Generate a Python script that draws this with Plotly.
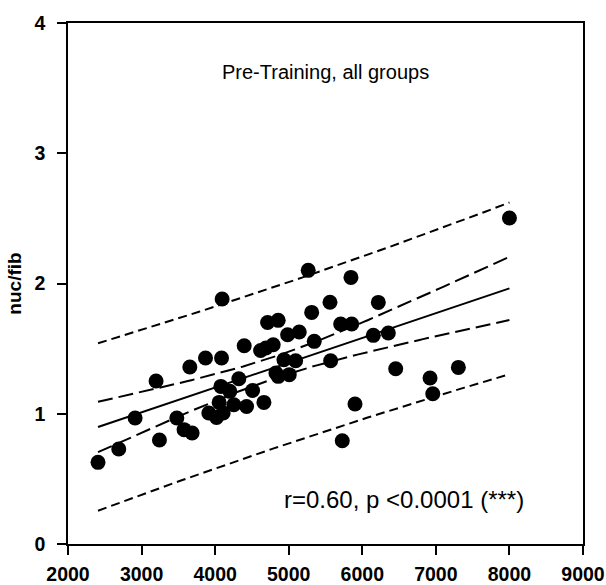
import numpy as np
import plotly.graph_objects as go

# Data
x_vals = [2408, 2690, 2912, 3197, 3243, 3479, 3578, 3687, 3656, 3869,
          4087, 4095, 3914, 4019, 4109, 4054, 4078, 4200, 4254, 4322,
          4395, 4427, 4509, 4663, 4618, 4690, 4789, 4713, 4857, 4826,
          4857, 5007, 4935, 5094, 4985, 5143, 5312, 5265, 5347, 5561,
          5570, 5706, 5856, 5846, 6218, 6150, 6354, 6454, 5901, 5728,
          6921, 6958, 7306, 8000]
y_vals = [0.627, 0.729, 0.967, 1.251, 0.798, 0.967, 0.878, 0.852, 1.359, 1.428,
          1.428, 1.881, 1.006, 0.972, 1.006, 1.087, 1.210, 1.172, 1.069, 1.269,
          1.522, 1.056, 1.179, 1.087, 1.486, 1.505, 1.530, 1.701, 1.717, 1.313,
          1.287, 1.300, 1.415, 1.407, 1.607, 1.628, 1.778, 2.101, 1.556, 1.856,
          1.407, 1.689, 1.689, 2.047, 1.855, 1.602, 1.620, 1.346, 1.075, 0.793,
          1.274, 1.154, 1.356, 2.503]

x_ticks = [2000, 3000, 4000, 5000, 6000, 7000, 8000, 9000]
y_ticks = [0, 1, 2, 3, 4]
title_text = "Pre-Training, all groups"
stat_text = "r=0.60, p <0.0001 (***)"
y_title = "nuc/fib"

# Linear regression with 95% confidence and prediction bands
x = np.array(x_vals, dtype=float)
y = np.array(y_vals, dtype=float)
n = len(x)
b1, b0 = np.polyfit(x, y, 1)
resid = y - (b0 + b1 * x)
s = np.sqrt(np.sum(resid ** 2) / (n - 2))
sxx = np.sum((x - x.mean()) ** 2)
t = 2.0066
xf = np.linspace(x.min(), x.max(), 120)
yf = b0 + b1 * xf
se_mean = s * np.sqrt(1.0 / n + (xf - x.mean()) ** 2 / sxx)
se_pred = s * np.sqrt(1.0 + 1.0 / n + (xf - x.mean()) ** 2 / sxx)

fig = go.Figure()
line_w = 2
for yy in (yf + t * se_pred, yf - t * se_pred):
    fig.add_trace(go.Scatter(x=xf, y=yy, mode="lines",
                             line=dict(color="black", width=line_w, dash="9px,5px"),
                             hoverinfo="skip"))
for yy in (yf + t * se_mean, yf - t * se_mean):
    fig.add_trace(go.Scatter(x=xf, y=yy, mode="lines",
                             line=dict(color="black", width=line_w, dash="15px,6px"),
                             hoverinfo="skip"))
fig.add_trace(go.Scatter(x=xf, y=yf, mode="lines",
                         line=dict(color="black", width=line_w), hoverinfo="skip"))
fig.add_trace(go.Scatter(x=x_vals, y=y_vals, mode="markers",
                         marker=dict(color="black", size=15, line=dict(width=0))))

tick_font = dict(family="Liberation Sans, Arial, sans-serif", size=19.5, color="black", weight="bold")
fig.update_layout(
    width=606, height=585,
    margin=dict(l=68, r=23, t=23, b=41),
    paper_bgcolor="white", plot_bgcolor="white",
    showlegend=False,
    xaxis=dict(range=[2000, 9000], tickvals=x_ticks, ticktext=[str(v) for v in x_ticks],
               showgrid=False, zeroline=False, showline=True, mirror=True,
               linecolor="black", linewidth=1.5, ticks="outside", ticklen=9,
               tickwidth=1.5, tickcolor="black", tickfont=tick_font,
               ticklabelstandoff=3, automargin=False),
    yaxis=dict(range=[0, 4], tickvals=y_ticks, ticktext=[str(v) for v in y_ticks],
               showgrid=False, zeroline=False, showline=True, mirror=True,
               linecolor="black", linewidth=1.5, ticks="outside", ticklen=9,
               tickwidth=1.5, tickcolor="black", tickfont=tick_font,
               ticklabelstandoff=8, automargin=False,
               title=dict(text=y_title, standoff=8,
                          font=dict(family="Liberation Sans, Arial, sans-serif", size=19,
                                    color="black", weight="bold"))),
    annotations=[
        dict(x=0.5, y=0.905, xref="paper", yref="paper", text=title_text,
             showarrow=False, xanchor="center", yanchor="middle",
             font=dict(family="Liberation Sans, Arial, sans-serif", size=20, color="black")),
        dict(x=0.416, y=0.085, xref="paper", yref="paper", text=stat_text,
             showarrow=False, xanchor="left", yanchor="middle",
             font=dict(family="Liberation Sans, Arial, sans-serif", size=24, color="black")),
    ],
)

fig.write_html("out.html")
